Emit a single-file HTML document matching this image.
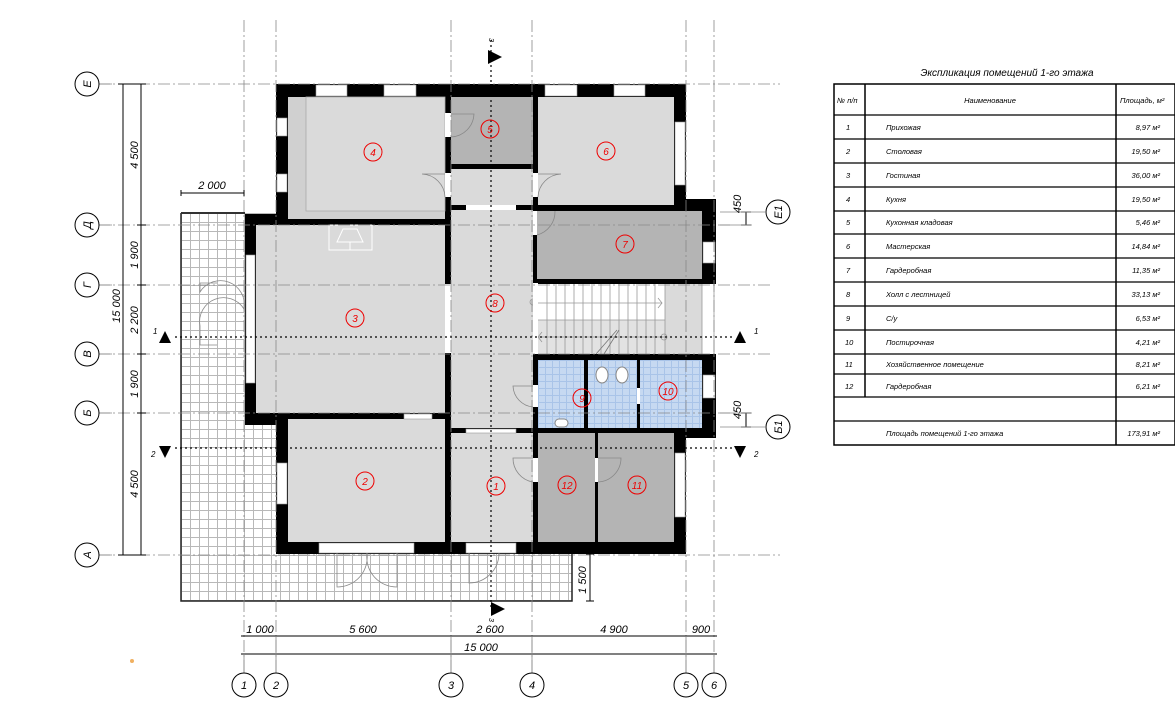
<!DOCTYPE html>
<html><head><meta charset="utf-8"><style>
html,body{margin:0;padding:0;background:#fff;}
svg{display:block;}
text{font-family:"Liberation Sans","DejaVu Sans",sans-serif;font-style:italic;}
</style></head><body>
<svg width="1175" height="719" viewBox="0 0 1175 719" xmlns="http://www.w3.org/2000/svg">
<defs>
<pattern id="tile" x="181" y="213" width="9" height="9" patternUnits="userSpaceOnUse">
<rect width="9" height="9" fill="#fff"/>
<path d="M0 0.5H9M0.5 0V9" stroke="#b8b8b8" stroke-width="1"/>
</pattern>
<pattern id="btile" x="538" y="360" width="7" height="7" patternUnits="userSpaceOnUse">
<rect width="7" height="7" fill="#c6d9f1"/>
<path d="M0 0.5H7M0.5 0V7" stroke="#a9c4e8" stroke-width="1"/>
</pattern>
</defs>

<!-- terrace -->
<rect x="181" y="213" width="95" height="388" fill="url(#tile)"/>
<rect x="181" y="554" width="391" height="47" fill="url(#tile)"/>
<path d="M181 213V601H572V554" fill="none" stroke="#222" stroke-width="1.5"/>
<path d="M181 213H245" stroke="#333" stroke-width="2"/>

<!-- room fills -->
<rect x="276" y="84" width="410" height="140" fill="#000"/>
<rect x="245" y="214" width="206" height="211" fill="#000"/>
<rect x="276" y="413" width="410" height="141" fill="#000"/>
<rect x="445" y="84" width="93" height="354" fill="#000"/>
<rect x="533" y="199" width="183" height="239" fill="#000"/>
<rect x="533" y="84" width="153" height="130" fill="#000"/>

<rect x="288" y="97" width="157" height="122" fill="#d0d0d0"/>
<rect x="306" y="97" width="139" height="114" fill="#dadada" stroke="#aaa" stroke-width="0.8"/>
<rect x="451" y="97" width="82" height="67" fill="#b4b4b4"/>
<rect x="538" y="97" width="136" height="108" fill="#dadada"/>
<rect x="451" y="169" width="82" height="36" fill="#dadada"/>
<rect x="451" y="210" width="82" height="218" fill="#dadada"/>
<rect x="256" y="225" width="189" height="188" fill="#dadada"/>
<rect x="537" y="211" width="165" height="68" fill="#b4b4b4"/>
<rect x="538" y="284" width="164" height="70" fill="#fff"/>
<rect x="538" y="320" width="127" height="34" fill="#e2e2e2"/>
<rect x="665" y="284" width="37" height="70" fill="#dadada"/>
<rect x="538" y="360" width="164" height="68" fill="url(#btile)"/>
<rect x="288" y="419" width="157" height="123" fill="#dadada"/>
<rect x="451" y="433" width="82" height="109" fill="#dadada"/>
<rect x="538" y="433" width="57" height="109" fill="#b4b4b4"/>
<rect x="598" y="433" width="76" height="109" fill="#b4b4b4"/>

<!-- bath partitions -->
<rect x="584" y="360" width="4" height="68" fill="#000"/>
<rect x="637" y="360" width="3" height="68" fill="#000"/>
<rect x="637" y="388" width="3" height="16" fill="#fff"/>
<ellipse cx="602" cy="375" rx="6" ry="8" fill="#fff" stroke="#888"/>
<ellipse cx="622" cy="375" rx="6" ry="8" fill="#fff" stroke="#888"/>
<rect x="555" y="419" width="13" height="8" rx="4" fill="#fff" stroke="#888"/>

<!-- stairs -->
<g stroke="#999" stroke-width="0.8">
<path d="M547 284V354M556 284V354M565 284V354M574 284V354M583 284V354M592 284V354M601 284V354M610 284V354M619 284V354M628 284V354M637 284V354M646 284V354M655 284V354M665 284V354"/>
<path d="M538 320H665M538 303H662M538 337H665"/>
<path d="M596 354L617 330M604 354L619 330" stroke="#777"/>
<circle cx="533" cy="302" r="3" fill="none"/>
<circle cx="664" cy="337" r="3" fill="none"/>
<path d="M658 298L662 303L658 308M542 332L538 337L542 342" fill="none"/>
</g>

<!-- windows (white gaps) -->
<g fill="#fff" stroke="#999" stroke-width="0.6">
<rect x="316" y="85" width="31" height="11"/>
<rect x="384" y="85" width="32" height="11"/>
<rect x="545" y="85" width="32" height="11"/>
<rect x="614" y="85" width="31" height="11"/>
<rect x="277" y="118" width="10" height="18"/>
<rect x="277" y="174" width="10" height="18"/>
<rect x="675" y="122" width="10" height="63"/>
<rect x="246" y="255" width="9" height="128"/>
<rect x="404" y="414" width="28" height="5"/>
<rect x="277" y="463" width="10" height="41"/>
<rect x="675" y="453" width="10" height="64"/>
<rect x="703" y="242" width="12" height="21"/>
<rect x="703" y="375" width="12" height="23"/>
<rect x="319" y="543" width="95" height="10"/>
<rect x="466" y="543" width="50" height="10"/>
<rect x="466" y="429" width="50" height="4"/>
</g>
<!-- door gaps -->
<g fill="#fff">
<rect x="445" y="113" width="6" height="24"/>
<rect x="445" y="173" width="6" height="24"/>
<rect x="533" y="173" width="5" height="24"/>
<rect x="466" y="205" width="50" height="5"/>
<rect x="445" y="284" width="6" height="69"/>
<rect x="533" y="211" width="4" height="24"/>
<rect x="533" y="283" width="5" height="71"/>
<rect x="533" y="385" width="5" height="22"/>
<rect x="533" y="458" width="5" height="24"/>
<rect x="595" y="458" width="3" height="24"/>
<rect x="538" y="279" width="164" height="5" fill="#000"/>
<rect x="702" y="284" width="14" height="70"/>
</g>
<path d="M702 284V354M714 284V354" stroke="#999" stroke-width="0.8"/>
<!-- door arcs -->
<g fill="none" stroke="#888" stroke-width="0.8">
<path d="M451 137A24 24 0 0 0 474 114H451"/>
<path d="M445 197A24 24 0 0 0 422 174H445"/>
<path d="M538 197A24 24 0 0 1 561 174H538"/>
<path d="M537 235A24 24 0 0 0 555 211"/>
<path d="M533 407A22 22 0 0 1 513 386H533"/>
<path d="M533 482A24 24 0 0 1 513 458H533"/>
<path d="M598 482A24 24 0 0 0 621 458H598"/>
<path d="M217 283H200V292A24 24 0 0 1 244 309A24 24 0 0 0 200 326V345H217"/>
<path d="M337 553V587A30 30 0 0 0 367 553A30 30 0 0 0 397 587V553"/>
<path d="M469 553V583A30 30 0 0 0 499 553"/>
</g>
<!-- fireplace -->
<g fill="none" stroke="#fff" stroke-width="1">
<rect x="329" y="225" width="43" height="25"/>
<path d="M337 242L343 229H357L363 242ZM350 242V250"/>
</g>

<!-- axes -->
<g stroke="#888" stroke-width="0.8" stroke-dasharray="12 3 2 3" fill="none">
<path d="M244 20V674M276 20V674M451 20V674M532 20V674M686 20V674M714 20V674"/>
<path d="M98 84H780M98 225H730M98 285H770M98 354H770M98 413H730M98 555H780"/>
</g>
<!-- section lines -->
<g stroke="#000" stroke-width="1.2" stroke-dasharray="2 3" fill="none">
<path d="M175 337H735M175 448H735M491 40V608"/>
</g>
<g fill="#000">
<path d="M488 50L502 57L488 64Z"/>
<path d="M491 602L505 609L491 616Z"/>
<path d="M165 331L159 343H171Z"/>
<path d="M740 331L734 343H746Z"/>
<path d="M159 446H171L165 458Z"/>
<path d="M734 446H746L740 458Z"/>
</g>
<g font-size="8" fill="#000">
<text x="153" y="334">1</text><text x="754" y="334">1</text>
<text x="151" y="457">2</text><text x="754" y="457">2</text>
<text x="489" y="42" font-size="7" transform="rotate(90 491 40)">3</text>
<text x="489" y="622" font-size="7" transform="rotate(90 491 620)">3</text>
</g>

<!-- room labels -->
<g fill="none" stroke="#e00" stroke-width="1">
<circle cx="373" cy="152" r="9"/><circle cx="490" cy="129" r="9"/><circle cx="606" cy="151" r="9"/>
<circle cx="625" cy="244" r="9"/><circle cx="495" cy="303" r="9"/><circle cx="355" cy="318" r="9"/>
<circle cx="582" cy="398" r="9"/><circle cx="668" cy="391" r="9"/><circle cx="365" cy="481" r="9"/>
<circle cx="496" cy="486" r="9"/><circle cx="567" cy="485" r="9"/><circle cx="637" cy="485" r="9"/>
</g>
<g fill="#e00" font-size="10" text-anchor="middle" font-style="normal">
<text x="373" y="156">4</text><text x="490" y="133">5</text><text x="606" y="155">6</text>
<text x="625" y="248">7</text><text x="495" y="307">8</text><text x="355" y="322">3</text>
<text x="582" y="402">9</text><text x="668" y="395">10</text><text x="365" y="485">2</text>
<text x="496" y="490">1</text><text x="567" y="489">12</text><text x="637" y="489">11</text>
</g>

<!-- dimensions -->
<g stroke="#000" stroke-width="1" fill="none">
<path d="M123 84V555M141 84V555M181 193H244M244 636H714M244 654H714M746 212V225M746 413V427M590 554V601"/>
<path d="M118 84H146M118 555H146M137 225H146M137 285H146M137 354H146M137 413H146"/>
<path d="M241 636h6M273 636h6M448 636h6M529 636h6M683 636h6M711 636h6M241 654h6M711 654h6"/>
<path d="M181 190v6M244 190v6M741 212h10M741 225h10M741 413h10M741 427h10M586 554h8M586 601h8"/>
</g>
<g stroke="#888" stroke-width="0.8">
<path d="M99 84H112M99 225H112M99 285H112M99 354H112M99 413H112M99 555H112"/>
<path d="M244 654V674M276 636V674M451 636V674M532 636V674M686 636V674M714 654V674"/>
<path d="M720 212H765M720 225H752M720 413H752M720 427H765"/>
</g>
<g font-size="11" fill="#000" text-anchor="middle">
<text x="212" y="189">2 000</text>
<text x="260" y="633">1 000</text><text x="363" y="633">5 600</text><text x="490" y="633">2 600</text>
<text x="614" y="633">4 900</text><text x="701" y="633">900</text><text x="481" y="651">15 000</text>
<text transform="translate(138 155) rotate(-90)">4 500</text>
<text transform="translate(138 255) rotate(-90)">1 900</text>
<text transform="translate(138 320) rotate(-90)">2 200</text>
<text transform="translate(138 384) rotate(-90)">1 900</text>
<text transform="translate(138 484) rotate(-90)">4 500</text>
<text transform="translate(120 306) rotate(-90)">15 000</text>
<text transform="translate(741 204) rotate(-90)">450</text>
<text transform="translate(741 410) rotate(-90)">450</text>
<text transform="translate(586 580) rotate(-90)">1 500</text>
</g>
<!-- axis bubbles -->
<g fill="#fff" stroke="#000" stroke-width="1">
<circle cx="87" cy="84" r="12"/><circle cx="87" cy="225" r="12"/><circle cx="87" cy="285" r="12"/>
<circle cx="87" cy="354" r="12"/><circle cx="87" cy="413" r="12"/><circle cx="87" cy="555" r="12"/>
<circle cx="244" cy="685" r="12"/><circle cx="276" cy="685" r="12"/><circle cx="451" cy="685" r="12"/>
<circle cx="532" cy="685" r="12"/><circle cx="686" cy="685" r="12"/><circle cx="714" cy="685" r="12"/>
<circle cx="778" cy="212" r="12"/><circle cx="778" cy="427" r="12"/>
</g>
<g font-size="11" fill="#000" text-anchor="middle">
<text transform="translate(91 84) rotate(-90)">Е</text>
<text transform="translate(91 225) rotate(-90)">Д</text>
<text transform="translate(91 285) rotate(-90)">Г</text>
<text transform="translate(91 354) rotate(-90)">В</text>
<text transform="translate(91 413) rotate(-90)">Б</text>
<text transform="translate(91 555) rotate(-90)">А</text>
<text transform="translate(782 212) rotate(-90)">Е1</text>
<text transform="translate(782 427) rotate(-90)">Б1</text>
<text x="244" y="689">1</text><text x="276" y="689">2</text><text x="451" y="689">3</text>
<text x="532" y="689">4</text><text x="686" y="689">5</text><text x="714" y="689">6</text>
</g>
<circle cx="132" cy="661" r="2" fill="#f0b060"/>

<!-- table -->
<text x="1007" y="76" font-size="10" text-anchor="middle" fill="#000">Экспликация помещений 1-го этажа</text>
<g stroke="#000" fill="none">
<rect x="834" y="84" width="341" height="361" stroke-width="1.5"/>
<path d="M865 84V397M1116 84V445" stroke-width="1.5"/>
<path d="M834 115H1175M834 139H1175M834 163H1175M834 187H1175M834 211H1175M834 234H1175M834 258H1175M834 282H1175M834 306H1175M834 330H1175M834 354H1175M834 374H1175M834 397H1175M834 421H1175" stroke-width="1.2"/>
</g>
<g font-size="7.5" fill="#000">
<text x="837" y="103">№ п/п</text>
<text x="990" y="103" text-anchor="middle">Наименование</text>
<text x="1120" y="103">Площадь, м²</text>
<text x="846" y="130">1</text><text x="886" y="130">Прихожая</text><text x="1160" y="130" text-anchor="end">8,97 м²</text>
<text x="846" y="154">2</text><text x="886" y="154">Столовая</text><text x="1160" y="154" text-anchor="end">19,50 м²</text>
<text x="846" y="178">3</text><text x="886" y="178">Гостиная</text><text x="1160" y="178" text-anchor="end">36,00 м²</text>
<text x="846" y="202">4</text><text x="886" y="202">Кухня</text><text x="1160" y="202" text-anchor="end">19,50 м²</text>
<text x="846" y="225">5</text><text x="886" y="225">Кухонная кладовая</text><text x="1160" y="225" text-anchor="end">5,46 м²</text>
<text x="846" y="249">6</text><text x="886" y="249">Мастерская</text><text x="1160" y="249" text-anchor="end">14,84 м²</text>
<text x="846" y="273">7</text><text x="886" y="273">Гардеробная</text><text x="1160" y="273" text-anchor="end">11,35 м²</text>
<text x="846" y="297">8</text><text x="886" y="297">Холл с лестницей</text><text x="1160" y="297" text-anchor="end">33,13 м²</text>
<text x="846" y="321">9</text><text x="886" y="321">С/у</text><text x="1160" y="321" text-anchor="end">6,53 м²</text>
<text x="845" y="345">10</text><text x="886" y="345">Постирочная</text><text x="1160" y="345" text-anchor="end">4,21 м²</text>
<text x="845" y="367">11</text><text x="886" y="367">Хозяйственное помещение</text><text x="1160" y="367" text-anchor="end">8,21 м²</text>
<text x="845" y="389">12</text><text x="886" y="389">Гардеробная</text><text x="1160" y="389" text-anchor="end">6,21 м²</text>
<text x="886" y="436">Площадь помещений 1-го этажа</text><text x="1160" y="436" text-anchor="end">173,91 м²</text>
</g>
</svg>
</body></html>
